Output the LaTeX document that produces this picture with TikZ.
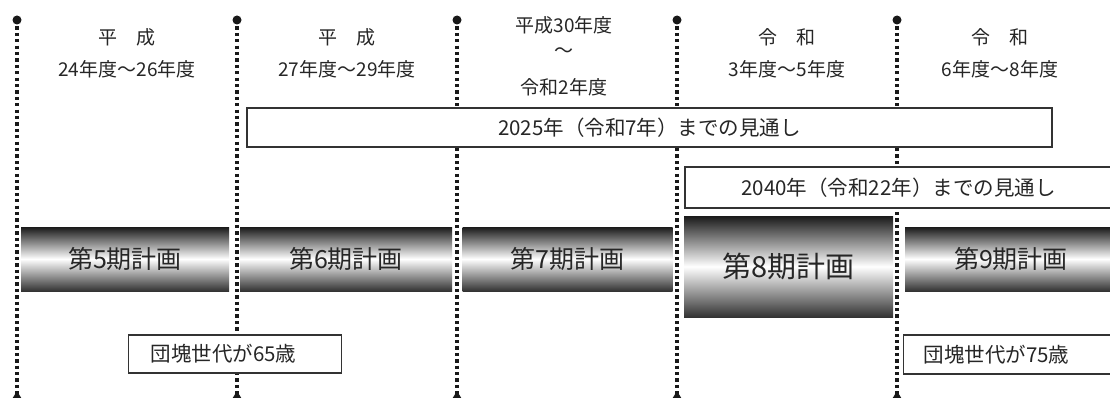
\documentclass[tikz,border=0pt]{standalone}
\usepackage{fontspec}
\usetikzlibrary{calc}
\newfontfamily\jp{Noto Sans CJK JP}
\begin{document}
\begin{tikzpicture}[x=1pt,y=-1pt,
  vline/.style={line width=3.4pt, dash pattern=on 3.3pt off 3.1pt, black!90},
  hdr/.style={font=\jp\fontsize{19}{22}\selectfont, inner sep=0pt, text=black!85},
  bar/.style={draw=none, top color=black!90, bottom color=black!80, middle color=white,
    font=\jp\fontsize{25}{28}\selectfont, text=black!85, inner sep=0pt},
  lbox/.style={draw=black!80, line width=1.2pt, fill=white,
    font=\jp\fontsize{20.5}{24}\selectfont, text=black!85, inner ysep=0pt}]
\useasboundingbox (0,0) rectangle (1110,398);
\fill[white] (0,0) rectangle (1110,398);
\clip (0,0) rectangle (1110,398);

% timeline dotted lines
\foreach \i/\x in {1/17,2/237,3/457,4/677,5/897}{
  \coordinate (t\i) at (\x,20);
  \coordinate (b\i) at (\x,398);
  \draw[vline] (t\i) -- (b\i);
  \fill[black!90] (t\i) circle (4.5);
  \fill[black!90] ($(b\i)+(-5.5,2)$) -- ($(b\i)+(5.5,2)$) -- ($(b\i)+(0,-7)$) -- cycle;
}

% headers
\node[hdr] (h1a) at (127,37) {平　成};
\node[hdr] (h1b) at (127,69) {24年度～26年度};
\node[hdr] (h2a) at (347,37) {平　成};
\node[hdr] (h2b) at (347,69) {27年度～29年度};
\node[hdr] (h3a) at (564,25) {平成30年度};
\node[hdr] (h3b) at (564,53) {～};
\node[hdr] (h3c) at (564,87) {令和2年度};
\node[hdr] (h4a) at (787,37) {令　和};
\node[hdr] (h4b) at (787,69) {3年度～5年度};
\node[hdr] (h5a) at (1000,37) {令　和};
\node[hdr] (h5b) at (1000,69) {6年度～8年度};

% outlook boxes
\node[lbox, minimum width=805, minimum height=39] (o2025) at (649.5,127.5) {2025年（令和7年）までの見通し};
\node[lbox, minimum width=427, minimum height=41] (o2040) at (898.5,187.5) {2040年（令和22年）までの見通し};

% plan bars
\node[bar, minimum width=208, minimum height=64] (p5) at (125,259) {第5期計画};
\node[bar, minimum width=212, minimum height=64] (p6) at (346,259) {第6期計画};
\node[bar, minimum width=210, minimum height=64] (p7) at (567.5,259) {第7期計画};
\node[bar, minimum width=209, minimum height=101, font=\jp\fontsize{29}{32}\selectfont] (p8) at (788.5,266.5) {第8期計画};
\node[bar, minimum width=212, minimum height=64] (p9) at (1011,259) {第9期計画};

% baby boomer boxes
\node[lbox, anchor=west, minimum height=38, inner xsep=22pt, text width=169pt, align=left] (g65) at (128,354) {団塊世代が65歳};
\node[lbox, anchor=west, minimum height=39, inner xsep=20pt, text width=200pt, align=left] (g75) at (903,354.5) {団塊世代が75歳};
\end{tikzpicture}
\end{document}
